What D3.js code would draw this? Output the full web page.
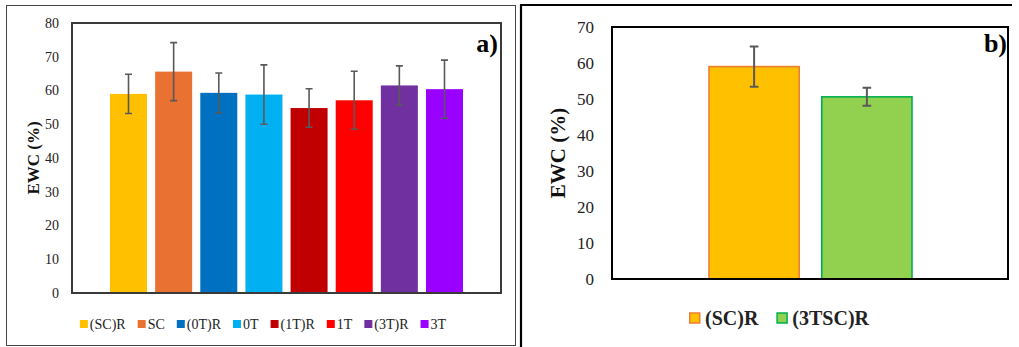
<!DOCTYPE html>
<html><head><meta charset="utf-8">
<script src="https://cdn.jsdelivr.net/npm/d3@7"></script>
</head><body style="margin:0;background:#fff">
<svg id="c" width="1019" height="347" font-family="Liberation Serif"></svg>
<script>
// ---- data: panel a
const catsA = ["(SC)R","SC","(0T)R","0T","(1T)R","1T","(3T)R","3T"];
const valsA = [59.0, 65.6, 59.3, 58.8, 54.8, 57.1, 61.5, 60.4];
const errA  = [5.8, 8.6, 5.9, 8.8, 5.7, 8.6, 5.8, 8.6];
const colorsA = ["#FFC000","#E97132","#0070C0","#00B0F0","#C00000","#FF0000","#7030A0","#9900FF"];
const ticksA = [0,10,20,30,40,50,60,70,80];
// ---- data: panel b
const catsB = ["(SC)R","(3TSC)R"];
const valsB = [59.0, 50.6];
const errB  = [5.6, 2.5];
const fillB = ["#FFC000","#92D050"];
const strokeB = ["#ED7D31","#00B050"];
const ticksB = [0,10,20,30,40,50,60,70];

const FONT = "Liberation Serif";
const svg = d3.select("#c");

// panel frames
svg.append("rect").attr("x",6.5).attr("y",5.5).attr("width",509).attr("height",340)
  .attr("fill","none").attr("stroke","#444").attr("stroke-width",1);
svg.append("path").attr("d","M521,347V5H1012").attr("fill","none").attr("stroke","#000").attr("stroke-width",2.2);

function panel(o){
  const g = svg.append("g").attr("font-family",FONT);
  const y = d3.scaleLinear().domain(o.domain).range([o.bottom, o.top]);
  const x = d3.scaleBand().domain(o.cats).range(o.barRange).paddingInner(o.pInner).paddingOuter(0);
  // tick labels
  const ax = g.append("g").attr("transform",`translate(${o.left},0)`)
    .call(d3.axisLeft(y).tickValues(o.ticks).tickSize(0).tickPadding(o.tickPad).tickFormat(d3.format("d")));
  ax.attr("font-family",FONT);
  ax.select(".domain").remove();
  ax.selectAll("text").attr("font-size",o.tickFont).attr("fill","#222").attr("font-family",FONT);
  // bars
  g.selectAll("rect.bar").data(o.vals).enter().append("rect")
    .attr("x",(d,i)=>x(o.cats[i])).attr("width",x.bandwidth())
    .attr("y",d=>y(d)).attr("height",d=>y(0)-y(d))
    .attr("fill",(d,i)=>o.fill[i])
    .attr("stroke",(d,i)=>o.stroke ? o.stroke[i] : "none")
    .attr("stroke-width",o.barStroke||0);
  // error bars
  const eg = g.append("g").attr("stroke","#595959").attr("stroke-width",o.errW).attr("fill","none");
  o.vals.forEach((v,i)=>{
    const cx = x(o.cats[i]) + x.bandwidth()/2;
    const t = y(v+o.err[i]), b = y(v-o.err[i]);
    eg.append("path").attr("d",`M${cx},${t}V${b}M${cx-o.cap},${t}H${cx+o.cap}M${cx-o.cap},${b}H${cx+o.cap}`);
  });
  // plot border
  g.append("rect").attr("x",o.left).attr("y",o.top).attr("width",o.right-o.left).attr("height",o.bottom-o.top)
    .attr("fill","none").attr("stroke",o.borderC).attr("stroke-width",2);
  // y title
  g.append("text").attr("transform",`translate(${o.titleX},${o.titleY}) rotate(-90)`)
    .attr("text-anchor","middle").attr("dominant-baseline","central").attr("font-family",FONT)
    .attr("font-weight","bold").attr("font-size",o.titleFont).attr("fill","#111").text("EWC (%)");
  // panel label
  g.append("text").attr("x",o.labX).attr("y",o.labY).attr("text-anchor","end").attr("font-family",FONT)
    .attr("font-weight","bold").attr("font-size",26).attr("fill","#000").text(o.label);
  // legend
  const lg = g.append("g");
  let cx = 0;
  o.cats.forEach((c,i)=>{
    lg.append("rect").attr("x",cx + (o.legStroke?0.75:0)).attr("y",-o.sq/2).attr("width",o.sq).attr("height",o.sq)
      .attr("fill",o.fill[i]).attr("stroke",o.legStroke?o.stroke[i]:"none").attr("stroke-width",1.5);
    const t = lg.append("text").attr("x",cx+o.sq+o.sqGap).attr("y",0).attr("dominant-baseline","central")
      .attr("font-family",FONT)
      .attr("font-size",o.legFont).attr("font-weight",o.legBold?"bold":"normal").attr("fill","#222").text(c);
    cx += o.sq + o.sqGap + t.node().getComputedTextLength() + o.itemGap;
  });
  const w = cx - o.itemGap;
  lg.attr("transform",`translate(${o.legCenter - w/2},${o.legY})`);
}

panel({cats:catsA, vals:valsA, err:errA, fill:colorsA, domain:[0,80], ticks:ticksA,
  left:72, right:501, top:23, bottom:293, barRange:[110,463], pInner:0.18,
  tickFont:14, tickPad:13, errW:1.6, cap:3.5, borderC:"#3a3a3a",
  titleX:33, titleY:158, titleFont:17, label:"a)", labX:498, labY:52,
  sq:8, sqGap:2, itemGap:12, legFont:14, legBold:false, legCenter:263, legY:324});

panel({cats:catsB, vals:valsB, err:errB, fill:fillB, stroke:strokeB, barStroke:1.6, domain:[0,70], ticks:ticksB,
  left:612, right:1008, top:27, bottom:279, barRange:[709,912], pInner:0.2,
  tickFont:17, tickPad:18, errW:2, cap:4.3, borderC:"#000",
  titleX:558, titleY:153, titleFont:21, label:"b)", labX:1007, labY:52,
  sq:10, sqGap:6, itemGap:18, legFont:20, legBold:true, legStroke:true, legCenter:779, legY:318});
</script>
</body></html>
